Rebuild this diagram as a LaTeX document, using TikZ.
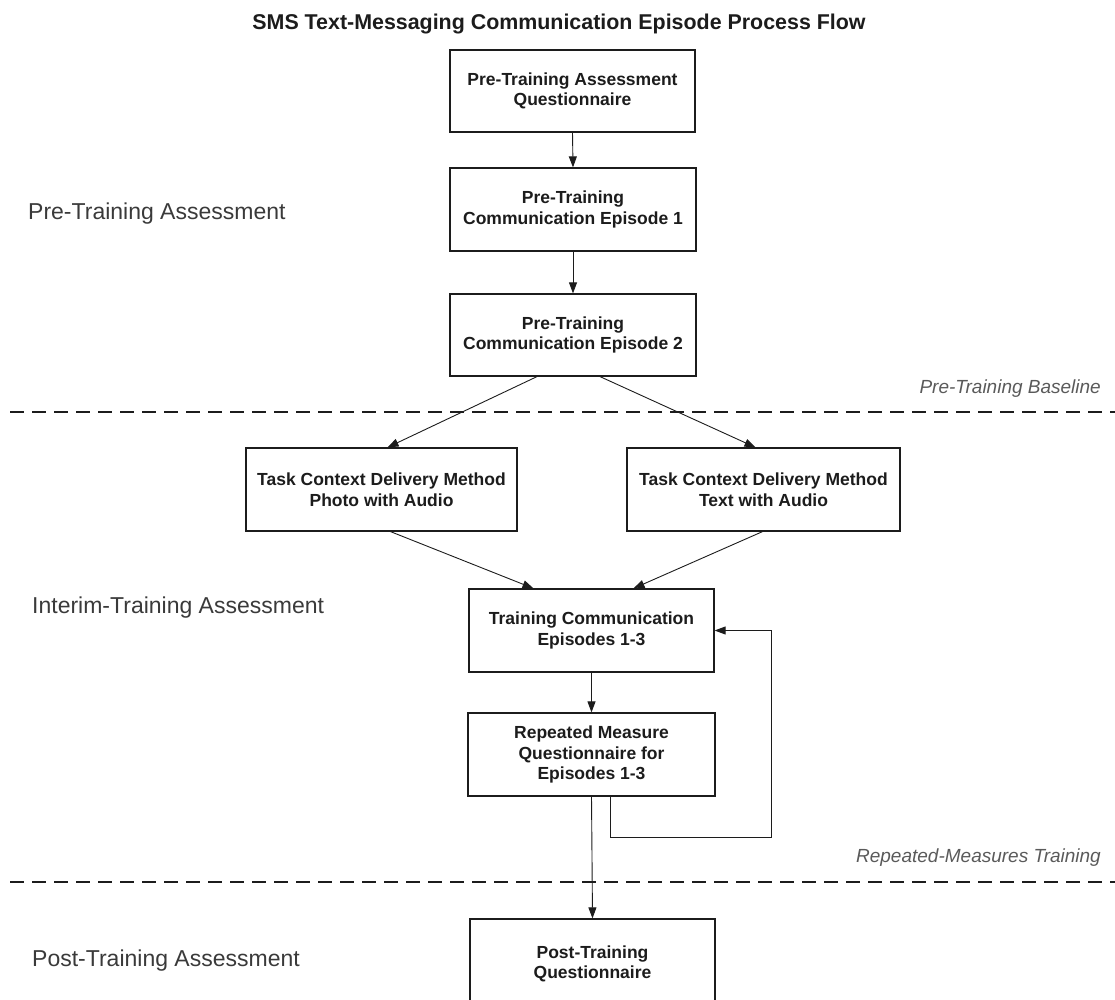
\documentclass[tikz,border=0pt]{standalone}
\usepackage{fontspec}
\setmainfont{Liberation Sans}
\usetikzlibrary{arrows.meta}
\definecolor{ink}{HTML}{1C1C1C}
\definecolor{sidegray}{HTML}{3A3A3A}
\definecolor{notegray}{HTML}{5A5A5A}
\begin{document}
\begin{tikzpicture}[x=1pt,y=-1pt,
  procbox/.style={draw=ink,line width=1.2pt,fill=white,align=center,inner sep=0pt,
    text=ink,font=\fontsize{17.5}{20.5}\selectfont\bfseries},
  flow/.style={draw=ink,line width=0.9pt,-{Triangle[length=11pt,width=8pt]}},
  phase/.style={anchor=base west,text=sidegray,inner sep=0pt,font=\fontsize{23}{26}\selectfont},
  note/.style={anchor=base east,text=notegray,inner sep=0pt,font=\fontsize{19}{22}\selectfont\itshape},
  divider/.style={draw=ink,line width=1.6pt,dash pattern=on 14pt off 8pt}]
\useasboundingbox (0,0) rectangle (1115,1000);
\clip (0,0) rectangle (1115,1000);

% title
\node[anchor=base,inner sep=0pt,text=ink,font=\fontsize{21.4}{24}\selectfont\bfseries] (title) at (559,30)
  {SMS Text-Messaging Communication Episode Process Flow};

% phase labels
\node[phase] (lpre) at (28,219) {Pre-Training Assessment};
\node[phase] (lint) at (32,613) {Interim-Training Assessment};
\node[phase] (lpost) at (32,966) {Post-Training Assessment};

% dividers
\coordinate (d1a) at (10,412);
\coordinate (d1b) at (1115,412);
\coordinate (d2a) at (10,882);
\coordinate (d2b) at (1115,882);
\draw[divider] (d1a) -- (d1b);
\draw[divider] (d2a) -- (d2b);
\node[note] (nbase) at (1101,393) {Pre-Training Baseline};
\node[note] (nrep) at (1101,862) {Repeated-Measures Training};

% boxes
\node[procbox,minimum width=245pt,minimum height=82pt] (b1) at (572.5,91)
  {Pre-Training Assessment\\Questionnaire};
\node[procbox,minimum width=246pt,minimum height=83pt] (b2) at (573,209.5)
  {Pre-Training\\Communication Episode 1};
\node[procbox,minimum width=246pt,minimum height=82pt] (b3) at (573,335)
  {Pre-Training\\Communication Episode 2};
\node[procbox,minimum width=271pt,minimum height=83pt] (photo) at (381.5,489.5)
  {Task Context Delivery Method\\Photo with Audio};
\node[procbox,minimum width=273pt,minimum height=83pt] (textaud) at (763.5,489.5)
  {Task Context Delivery Method\\Text with Audio};
\node[procbox,minimum width=245pt,minimum height=83pt] (train) at (591.5,630.5)
  {Training Communication\\Episodes 1-3};
\node[procbox,minimum width=247pt,minimum height=83pt] (rep) at (591.5,754.5)
  {Repeated Measure\\Questionnaire for\\Episodes 1-3};
\node[procbox,minimum width=245pt,minimum height=86pt,text depth=0pt] (post) at (592.5,962)
  {Post-Training\\Questionnaire};

% connectors
\draw[flow] (b1.south) -- (b2.north);
\draw[flow] (b2.south) -- (b3.north);
\draw[flow] ([xshift=-36pt]b3.south) -- ([xshift=6pt]photo.north);
\draw[flow] ([xshift=27pt]b3.south) -- ([xshift=-8pt]textaud.north);
\draw[flow] ([xshift=9pt]photo.south) -- ([xshift=-58pt]train.north);
\draw[flow] ([xshift=-1pt]textaud.south) -- ([xshift=42pt]train.north);
\draw[flow] (train.south) -- (rep.north);
\coordinate (loop) at (771,837);
\draw[flow] ([xshift=18.5pt]rep.south) |- (loop) |- (train.east);
\draw[flow] (rep.south) -- (post.north);
\end{tikzpicture}
\end{document}
